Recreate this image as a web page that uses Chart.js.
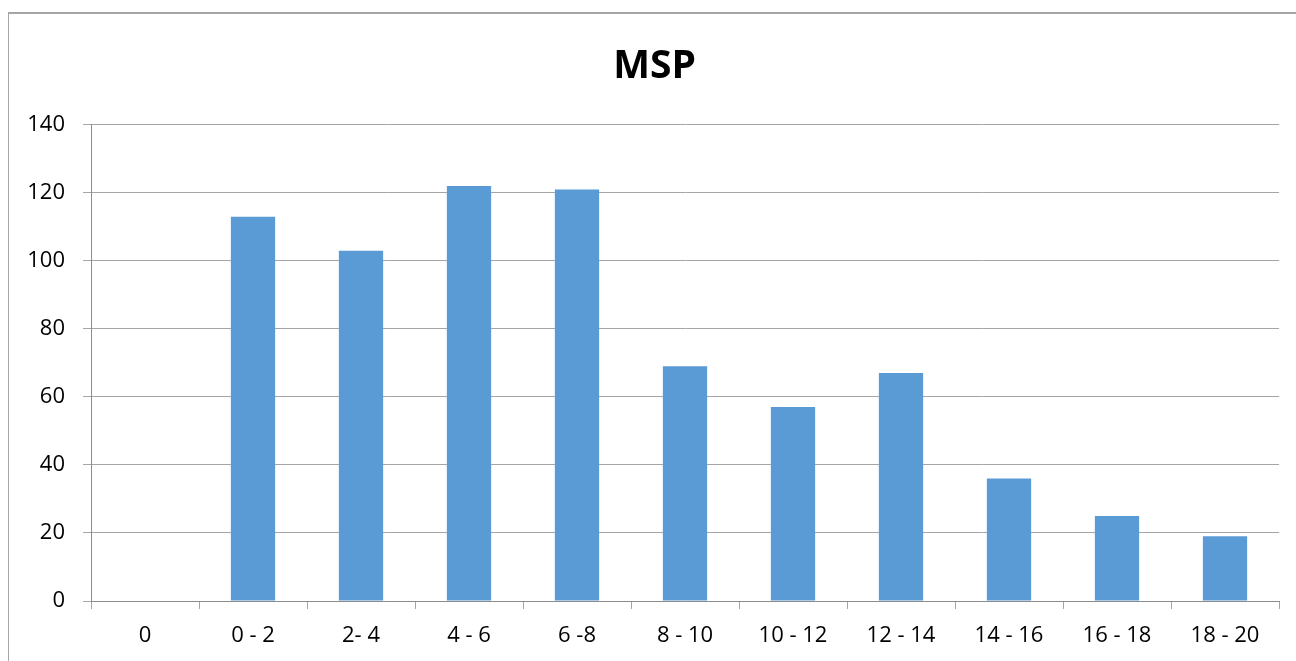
<!DOCTYPE html>
<html>
<head>
<meta charset="utf-8">
<script src="https://cdn.jsdelivr.net/npm/chart.js@4"></script>
<style>
    html, body { margin: 0; padding: 0; background: #fff; overflow: hidden; }
    #wrap { position: relative; width: 1296px; height: 661px; }
    #frame {
        position: absolute; left: 8px; top: 12px; width: 1300px; height: 660px;
        border-left: 1px solid #a6a6a6; border-top: 2px solid #a6a6a6;
        box-sizing: border-box;
    }
    canvas { position: absolute; left: 0; top: 0; }
</style>
</head>
<body>
<div id="wrap">
    <div id="frame"></div>
    <canvas id="mspChart" width="1296" height="661"></canvas>
</div>
<script>
// Data
const categories = ['0', '0 - 2', '2- 4', '4 - 6', '6 -8', '8 - 10', '10 - 12', '12 - 14', '14 - 16', '16 - 18', '18 - 20'];
const mspValues = [0, 113, 103, 122, 121, 69, 57, 67, 36, 25, 19];
const yTicks = [0, 20, 40, 60, 80, 100, 120, 140];

const FONT = "'Open Sans', 'Liberation Sans', sans-serif";
const GRID = '#a6a6a6';

// centre the title over the whole frame rather than just the plot width
const titleShift = {
    id: 'titleShift',
    afterLayout(chart) {
        if (chart.titleBlock) chart.titleBlock.left = 30;
    }
};

new Chart(document.getElementById('mspChart'), {
    type: 'bar',
    data: {
        labels: categories,
        datasets: [{
            label: 'MSP',
            data: mspValues,
            backgroundColor: '#5b9bd5',
            borderWidth: 0,
            barPercentage: 0.41,
            categoryPercentage: 1.0
        }]
    },
    plugins: [titleShift],
    options: {
        responsive: false,
        animation: false,
        devicePixelRatio: 1,
        layout: { padding: { left: 0, right: 17, top: 0, bottom: 0 } },
        plugins: {
            legend: { display: false },
            tooltip: { enabled: false },
            title: {
                display: true,
                text: 'MSP',
                color: '#000',
                font: { family: FONT, size: 39, weight: 'bold' },
                padding: { top: 43, bottom: 35 }
            }
        },
        scales: {
            x: {
                offset: true,
                grid: {
                    offset: true,
                    drawOnChartArea: false,
                    drawTicks: true,
                    tickLength: 8,
                    color: GRID
                },
                border: { color: '#8c8c8c', width: 1 },
                ticks: {
                    color: '#000',
                    padding: 14,
                    maxRotation: 0,
                    autoSkip: false,
                    font: { family: FONT, size: 22 }
                },
                afterFit: axis => { axis.height = 60; }
            },
            y: {
                min: 0,
                max: 140,
                afterBuildTicks: axis => { axis.ticks = yTicks.map(v => ({ value: v })); },
                grid: {
                    color: GRID,
                    tickLength: 8,
                    drawTicks: true
                },
                border: { color: '#8c8c8c', width: 1 },
                ticks: {
                    color: '#000',
                    padding: 18,
                    font: { family: FONT, size: 22 }
                },
                afterFit: axis => { axis.width = 91; }
            }
        }
    }
});
</script>
</body>
</html>
